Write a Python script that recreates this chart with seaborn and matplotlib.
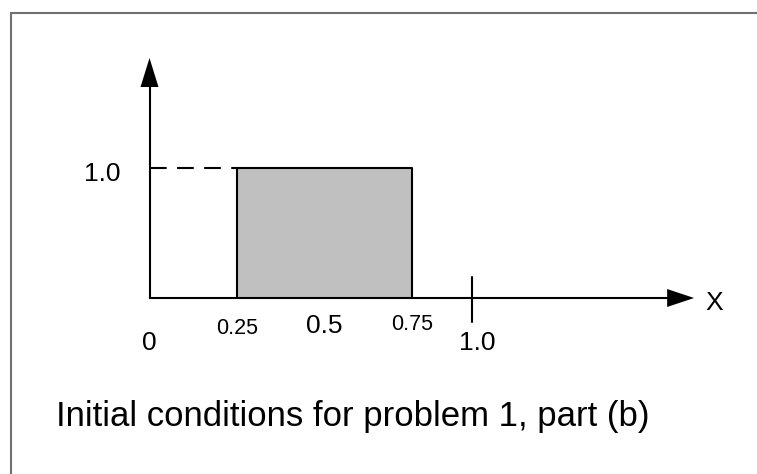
import matplotlib
matplotlib.use("Agg")
import matplotlib.pyplot as plt
import seaborn as sns
import pandas as pd
from matplotlib.lines import Line2D

# pulse (initial condition) values
pulse_x = [0.25, 0.25, 0.75, 0.75]
pulse_y = [0.0, 1.0, 1.0, 0.0]
pulse_height = 1.0

# x labels under the axis
x_label_vals = [0.0, 0.25, 0.5, 0.75]
x_label_text = ["0", "0.25", "0.5", "0.75"]
one_mark_x = 0.92          # where the sketch puts the "1.0" tick
one_label = "1.0"
y_label_text = "1.0"
caption = "Initial conditions for problem 1, part (b)"

sns.set_style("white")
plt.rcParams['font.family'] = ['Liberation Sans', 'DejaVu Sans']
plt.rcParams['text.color'] = 'black'

fig = plt.figure(figsize=(7.57, 4.74), dpi=100)
ax = fig.add_axes([0, 0, 1, 1])
# 350 px per unit in x (x=0 at px 149.5), 130 px per unit in y (y=0 at px 298)
ax.set_xlim(-149.5 / 350, (757 - 149.5) / 350)
ax.set_ylim(-(474 - 298) / 130, 298 / 130)
ax.axis('off')

df = pd.DataFrame({'x': pulse_x, 'y': pulse_y})
ax.fill_between(pulse_x[1:3], 0, pulse_height, color='#c0c0c0', lw=0)
sns.lineplot(data=df, x='x', y='y', sort=False, estimator=None,
             errorbar=None, color='black', lw=1.5, ax=ax)

# axes with arrow heads
ax.plot([0, 0], [0, 1.65], color='black', lw=1.5)
ax.fill([-0.0257, 0.0257, 0], [1.623, 1.623, 1.846], color='black', lw=0)
ax.plot([0, 1.50], [0, 0], color='black', lw=1.5)
ax.fill([1.479, 1.479, 1.556], [-0.069, 0.069, 0], color='black', lw=0)

# dashed guide to the y label
ax.plot([0, pulse_x[1]], [pulse_height, pulse_height], color='black', lw=1.5,
        dashes=(8, 5))

# tick for 1.0
ax.plot([one_mark_x, one_mark_x], [0.162, -0.185], color='black', lw=1.5)

# labels
sizes = [19, 15.5, 19, 15.5]
bases = [-0.4, -0.277, -0.269, -0.246]
for v, t, s, b in zip(x_label_vals, x_label_text, sizes, bases):
    ax.text(v, b, t, fontsize=s, ha='center', va='baseline')
ax.text(0.936, -0.4, one_label, fontsize=19, ha='center', va='baseline')
ax.text(-0.136, 0.9, y_label_text, fontsize=19, ha='center', va='baseline')
ax.text(1.613, -0.092, "X", fontsize=19, ha='center', va='baseline')
ax.text(56 / 350 - 149.5 / 350, -0.985, caption, fontsize=25, ha='left',
        va='baseline')

# frame around the sketch (top and left edges visible)
fx, fy = 10.5 / 757, 1 - 13 / 474
fig.add_artist(Line2D([fx, 1], [fy, fy], color='#707070', lw=1.5))
fig.add_artist(Line2D([fx, fx], [fy, 0], color='#707070', lw=1.5))

fig.savefig("out.png", dpi=100)
